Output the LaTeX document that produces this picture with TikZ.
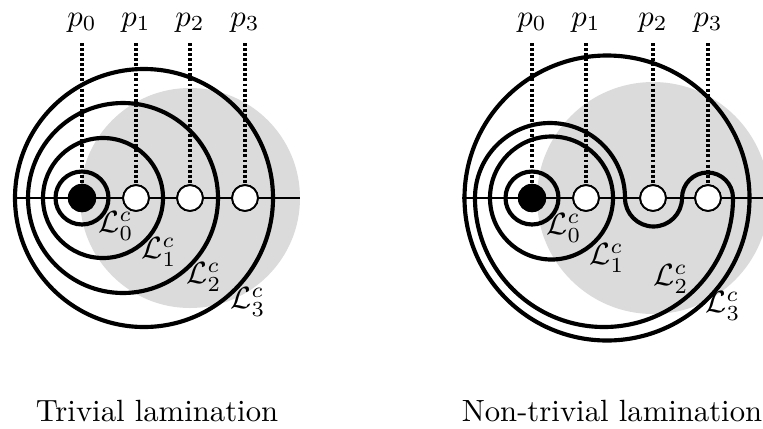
\documentclass[tikz,border=0pt]{standalone}
\begin{document}
\begin{tikzpicture}[x=0.3257pt,y=-0.3257pt,
  graydisk/.style={fill=black!14},
  axis/.style={line width=0.35pt},
  dotline/.style={line width=1.2pt,dash pattern=on 0.95pt off 0.7pt},
  curve/.style={line width=1.35pt},
  wpt/.style={circle,draw,line width=0.6pt,fill=white,minimum size=8.4pt,inner sep=0pt},
  bpt/.style={circle,draw,line width=0.6pt,fill=black,minimum size=8.6pt,inner sep=0pt},
  plab/.style={anchor=base,inner sep=0pt},
  llab/.style={inner sep=0pt}]
\useasboundingbox (0,0) rectangle (763,428);

% ---------- left diagram ----------
\fill[graydisk] (190,198) circle[radius=110];
\coordinate (hlA) at (15,198);
\coordinate (hlB) at (300,198);
\draw[axis] (hlA) -- (hlB);
\node[bpt] (a0) at (82,198) {};
\node[wpt] (a1) at (136,198) {};
\node[wpt] (a2) at (190,198) {};
\node[wpt] (a3) at (245,198) {};
\coordinate (ta0) at (82,43);
\coordinate (ta1) at (136,43);
\coordinate (ta2) at (190,43);
\coordinate (ta3) at (245,43);
\draw[dotline] (ta0) -- (a0.north);
\draw[dotline] (ta1) -- (a1.north);
\draw[dotline] (ta2) -- (a2.north);
\draw[dotline] (ta3) -- (a3.north);
\draw[curve] (82,198) circle[radius=26.5];
\draw[curve] (103,198) circle[radius=60];
\draw[curve] (123,198) circle[radius=95];
\draw[curve] (144,198) circle[radius=129];
\node[bpt] at (a0) {};
\node[wpt] at (a1) {};
\node[wpt] at (a2) {};
\node[wpt] at (a3) {};
\node[plab] (pa0) at (82,26) {$p_0$};
\node[plab] (pa1) at (136,26) {$p_1$};
\node[plab] (pa2) at (190,26) {$p_2$};
\node[plab] (pa3) at (245,26) {$p_3$};
\node[llab] (la0) at (116,226) {$\mathcal{L}^c_0$};
\node[llab] (la1) at (159,252) {$\mathcal{L}^c_1$};
\node[llab] (la2) at (204,277) {$\mathcal{L}^c_2$};
\node[llab] (la3) at (248,302) {$\mathcal{L}^c_3$};
\node[anchor=base,inner sep=0pt] (tA) at (157,421) {Trivial lamination};

% ---------- right diagram ----------
\fill[graydisk] (653,198) circle[radius=116];
\coordinate (hrA) at (462,198);
\coordinate (hrB) at (763,198);
\draw[axis] (hrA) -- (hrB);
\node[bpt] (b0) at (532,198) {};
\node[wpt] (b1) at (586,198) {};
\node[wpt] (b2) at (653,198) {};
\node[wpt] (b3) at (708,198) {};
\coordinate (tb0) at (532,43);
\coordinate (tb1) at (586,43);
\coordinate (tb2) at (653,43);
\coordinate (tb3) at (708,43);
\draw[dotline] (tb0) -- (b0.north);
\draw[dotline] (tb1) -- (b1.north);
\draw[dotline] (tb2) -- (b2.north);
\draw[dotline] (tb3) -- (b3.north);
\draw[curve] (532,198) circle[radius=26.5];
\draw[curve] (551.5,198) circle[radius=61.5];
\draw[curve] (475,198) arc[start angle=180,end angle=360,radius=75]
  arc[start angle=180,end angle=0,radius=28.5]
  arc[start angle=180,end angle=360,radius=25.5]
  arc[start angle=0,end angle=180,radius=129] -- cycle;
\draw[curve] (607,198) circle[radius=142.5];
\node[bpt] at (b0) {};
\node[wpt] at (b1) {};
\node[wpt] at (b2) {};
\node[wpt] at (b3) {};
\node[plab] (pb0) at (532,26) {$p_0$};
\node[plab] (pb1) at (586,26) {$p_1$};
\node[plab] (pb2) at (653,26) {$p_2$};
\node[plab] (pb3) at (708,26) {$p_3$};
\node[llab] (lb0) at (564,228) {$\mathcal{L}^c_0$};
\node[llab] (lb1) at (607,258) {$\mathcal{L}^c_1$};
\node[llab] (lb2) at (671,279) {$\mathcal{L}^c_2$};
\node[llab] (lb3) at (723,306) {$\mathcal{L}^c_3$};
\node[anchor=base,inner sep=0pt] (tB) at (612,421) {Non-trivial lamination};
\end{tikzpicture}
\end{document}
